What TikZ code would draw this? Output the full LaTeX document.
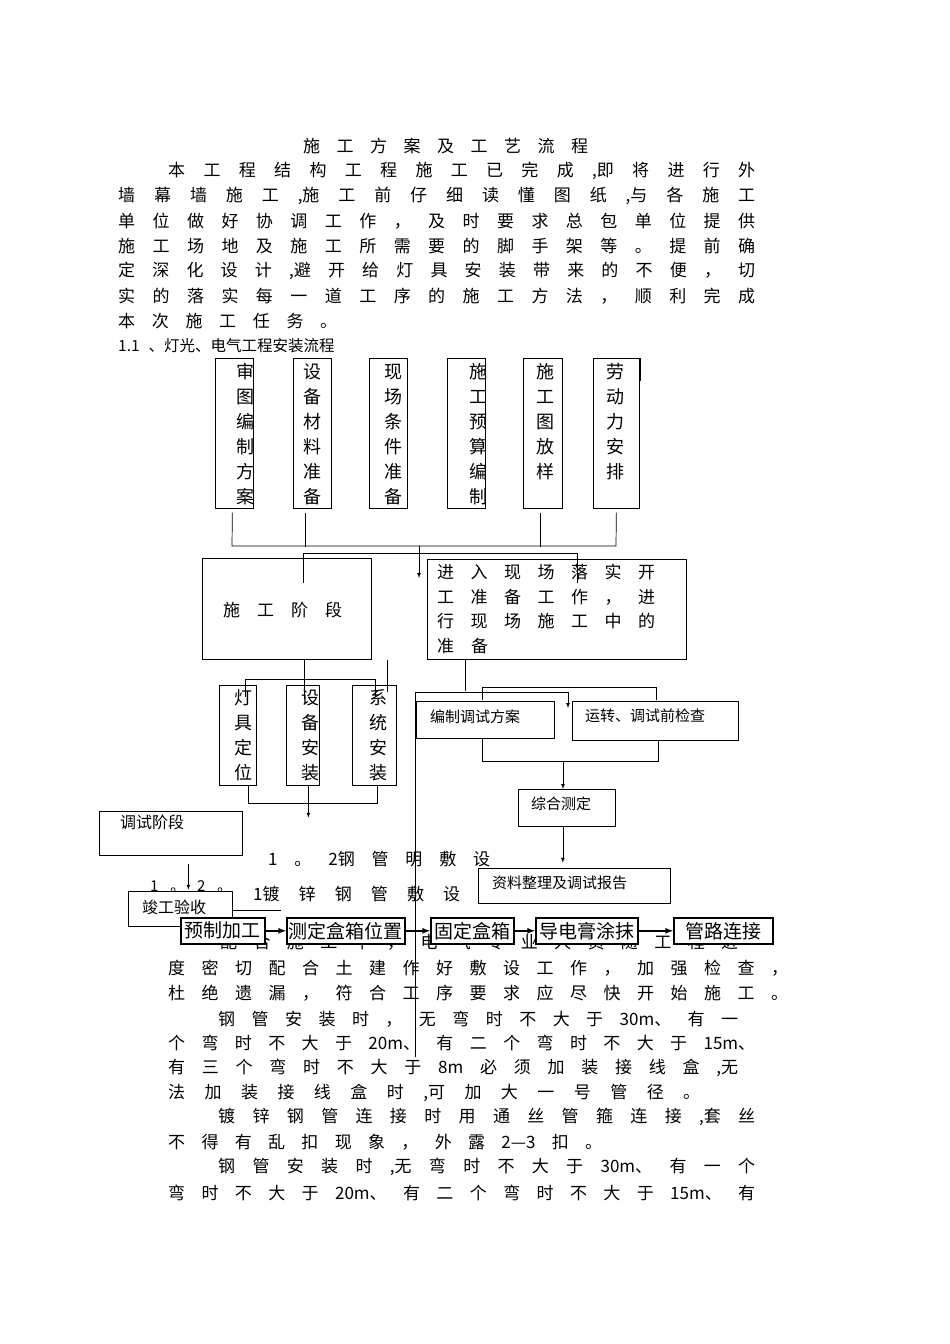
\documentclass[tikz,border=0pt]{standalone}
\usepackage{fontspec}
\setmainfont{Noto Sans CJK SC}

\tikzset{
    box/.style={draw, line width=0.7pt, fill=white, inner sep=0pt, anchor=north west},
    flowbox/.style={draw, line width=1.6pt, fill=white, inner sep=0pt, anchor=north west, font=\fontsize{19}{19}\selectfont},
    vtext/.style={align=center, inner sep=0pt, font=\fontsize{18}{25}\selectfont},
    btext/.style={anchor=west, inner sep=0pt, font=\fontsize{15}{15}\selectfont},
    body/.style={anchor=west, inner sep=0pt, font=\fontsize{17}{17}\selectfont},
    link/.style={line width=0.7pt},
    flowlink/.style={line width=1.6pt, ->},
}
% one justified line: name, x, y, width, text
\newcommand{\jline}[5]{\node[body] (#1) at (#2,#3) {\hbox to #4pt{\spaceskip=0pt plus 1fil\relax#5}};}

\begin{document}
\begin{tikzpicture}[x=1pt, y=-1pt, >=latex]
    \useasboundingbox[fill=white] (0,0) rectangle (950,1344);

    % Heading and first paragraph
    \jline{title}{303}{146}{285}{施 工 方 案 及 工 艺 流 程}
    \jline{p1}{168}{171}{587}{本 工 程 结 构 工 程 施 工 已 完 成 ,即 将 进 行 外}
    \jline{p2}{118}{196}{637}{墙 幕 墙 施 工 ,施 工 前 仔 细 读 懂 图 纸 ,与 各 施 工}
    \jline{p3}{118}{221}{637}{单 位 做 好 协 调 工 作 ， 及 时 要 求 总 包 单 位 提 供}
    \jline{p4}{118}{246}{637}{施 工 场 地 及 施 工 所 需 要 的 脚 手 架 等 。 提 前 确}
    \jline{p5}{118}{271}{637}{定 深 化 设 计 ,避 开 给 灯 具 安 装 带 来 的 不 便 ， 切}
    \jline{p6}{118}{296}{637}{实 的 落 实 每 一 道 工 序 的 施 工 方 法 ， 顺 利 完 成}
    \jline{p7}{118}{321}{219}{本 次 施 工 任 务 。}
    \node[btext, font=\fontsize{15.5}{15.5}\selectfont] (sec) at (118,346) {1.1\hspace{9pt}、灯光、电气工程安装流程};

    % Lower paragraphs (drawn first, boxes lie over them)
    \jline{s1}{268}{859}{222}{1 。 2钢 管 明 敷 设}
    \jline{s2}{253}{894}{243}{1镀 锌 钢 管 敷 设 工}
    \jline{q1}{220}{942}{518}{配 合 施 工 中 ， 电 气 专 业 人 员 随 工 程 进}
    \jline{q2}{168}{968}{620}{度 密 切 配 合 土 建 作 好 敷 设 工 作 ， 加 强 检 查 ，}
    \jline{q3}{168}{993}{620}{杜 绝 遗 漏 ， 符 合 工 序 要 求 应 尽 快 开 始 施 工 。}
    \jline{q4}{218}{1019}{520}{钢 管 安 装 时 ， 无 弯 时 不 大 于 30m、 有 一}
    \jline{q5}{168}{1043}{587}{个 弯 时 不 大 于 20m、 有 二 个 弯 时 不 大 于 15m、}
    \jline{q6}{168}{1068}{570}{有 三 个 弯 时 不 大 于 8m 必 须 加 装 接 线 盒 ,无}
    \jline{q7}{168}{1093}{532}{法 加 装 接 线 盒 时 ,可 加 大 一 号 管 径 。}
    \jline{q8}{218}{1117}{537}{镀 锌 钢 管 连 接 时 用 通 丝 管 箍 连 接 ,套 丝}
    \jline{q9}{168}{1142}{434}{不 得 有 乱 扣 现 象 ， 外 露 2—3 扣 。}
    \jline{q10}{218}{1167}{537}{钢 管 安 装 时 ,无 弯 时 不 大 于 30m、 有 一 个}
    \jline{q11}{168}{1193}{587}{弯 时 不 大 于 20m、 有 二 个 弯 时 不 大 于 15m、 有}

    % Preparation boxes
    \node[box, minimum width=38, minimum height=150] (audit) at (215,358) {};
    \node[vtext] (auditT) at (245,434.5) {审\\图\\编\\制\\方\\案};
    \node[box, minimum width=38, minimum height=150] (equip) at (293,358) {};
    \node[vtext] (equipT) at (312,434.5) {设\\备\\材\\料\\准\\备};
    \node[box, minimum width=38, minimum height=150] (site) at (369,358) {};
    \node[vtext] (siteT) at (393,434.5) {现\\场\\条\\件\\准\\备};
    \node[box, minimum width=38, minimum height=150] (budget) at (447,358) {};
    \node[vtext] (budgetT) at (478,434.5) {施\\工\\预\\算\\编\\制};
    \node[box, minimum width=39, minimum height=150] (layout) at (523,358) {};
    \node[vtext] (layoutT) at (545,422) {施\\工\\图\\放\\样};
    \node[box, minimum width=46, minimum height=150] (labour) at (593,358) {};
    \node[vtext] (labourT) at (615,422) {劳\\动\\力\\安\\排};
    \draw[line width=2pt] (labour.north east) -- ++(0,23);

    % Collecting bus
    \coordinate (busA) at (232,546);
    \coordinate (busB) at (616,546);
    \coordinate (busMid) at (419,546);
    \coordinate (busEnd) at (419,578);
    \draw[link] ([xshift=-2pt,yshift=-4pt]audit.south) -- (busA) -- (busB) -- ([yshift=-4pt]labour.south);
    \draw[link] ([xshift=-7pt,yshift=-4pt]equip.south) -- ++(0,34);
    \draw[link] ([xshift=-2.5pt,yshift=-4pt]layout.south) -- ++(0,34);
    \draw[link,->] (busMid) -- (busEnd);

    % Stage boxes
    \node[box, minimum width=169, minimum height=101] (build) at (202,558) {};
    \jline{buildT}{223}{610}{119}{施 工 阶 段}
    \node[box, minimum width=259, minimum height=100] (enter) at (427,559) {};
    \jline{enterA}{437}{572}{218}{进 入 现 场 落 实 开}
    \jline{enterB}{437}{597}{218}{工 准 备 工 作 ， 进}
    \jline{enterC}{437}{621}{218}{行 现 场 施 工 中 的}
    \jline{enterD}{437}{646}{51}{准 备}
    \draw[link] ([xshift=101pt,yshift=-25pt]build.north west) -- ++(0,-30) -| ([xshift=150pt,yshift=-24pt]enter.north west);

    % Installation boxes
    \node[box, minimum width=37, minimum height=100] (lamp) at (219,685) {};
    \node[vtext] (lampT) at (243,735) {灯\\具\\定\\位};
    \node[box, minimum width=33, minimum height=100] (device) at (286,685) {};
    \node[vtext] (deviceT) at (310,735) {设\\备\\安\\装};
    \node[box, minimum width=44, minimum height=100] (system) at (352,685) {};
    \node[vtext] (systemT) at (378,735) {系\\统\\安\\装};
    \draw[link] ([xshift=17.5pt]build.south) -- ++(0,39);
    \draw[link] ([xshift=16pt]build.south east) -- ++(0,32);
    \draw[link] ([xshift=26pt,yshift=-12pt]lamp.north west) -- ++(0,-18) -| ([xshift=23pt,yshift=-12pt]system.north west);
    \draw[link] ([xshift=29pt]lamp.south west) -- ++(0,18) -| ([xshift=25pt]system.south west);
    \draw[link,->] ([xshift=5.5pt]device.south) -- ++(0,32);

    % Commissioning branch
    \node[box, minimum width=138, minimum height=37] (plan) at (416,701) {};
    \node[btext] (planT) at (430,717) {编制调试方案};
    \node[box, minimum width=166, minimum height=39] (check) at (572,701) {};
    \node[btext] (checkT) at (585,716) {运转、调试前检查};
    \coordinate (split) at (415,692);
    \coordinate (longEnd) at (415,1057);
    \draw[link] ([xshift=38pt]enter.south west) -- ++(0,31);
    \draw[link,->] (longEnd) -- (split) -| ([xshift=-4pt,yshift=-7pt]check.north west);
    \draw[link] ([xshift=66pt,yshift=1pt]plan.north west) -- ++(0,-13) -| ([xshift=84pt,yshift=1pt]check.north west);
    \draw[link] ([xshift=66pt]plan.south west) -- ++(0,23) -| ([xshift=86pt]check.south west);
    \node[box, minimum width=97, minimum height=37] (test) at (518,789) {};
    \node[btext] (testT) at (531,804) {综合测定};
    \coordinate (merge) at (563,761);
    \draw[link,->] (merge) -- (merge |- test.north);
    \node[box, minimum width=192, minimum height=35] (report) at (478,868) {};
    \node[btext] (reportT) at (492,883) {资料整理及调试报告};
    \draw[link,->] ([xshift=-4pt]test.south) -- ++(0,36);

    % Debugging and acceptance
    \node[box, minimum width=143, minimum height=44] (debug) at (99,811) {};
    \node[btext, font=\fontsize{16}{16}\selectfont] (debugT) at (120,822) {调试阶段};
    \node[box, minimum width=104, minimum height=35] (accept) at (128,891) {};
    \node[btext, font=\fontsize{16}{16}\selectfont] (acceptT) at (142,907) {竣工验收};
    \node[btext] (num) at (150,887) {\hbox to 82pt{\spaceskip=0pt plus 1fil\relax 1 。 2 。}};
    \draw[link,->] ([xshift=17.5pt,yshift=-8pt]debug.south) -- ++(0,26);
    \draw[link] ([yshift=-1pt]accept.east) -- ++(48,0);

    % Pipe laying steps
    \node[flowbox, minimum width=84, minimum height=26] (pre) at (180,917) {预制加工};
    \node[flowbox, minimum width=118, minimum height=26] (measure) at (286,917) {测定盒箱位置};
    \node[flowbox, minimum width=83, minimum height=26] (fix) at (430,917) {固定盒箱};
    \node[flowbox, minimum width=102, minimum height=26] (paste) at (535,917) {导电膏涂抹};
    \node[flowbox, minimum width=99, minimum height=26] (connect) at (673,917) {管路连接};
    \foreach \a/\b in {pre/measure, measure/fix, fix/paste, paste/connect}
        \draw[flowlink] (\a) -- (\b);
\end{tikzpicture}
\end{document}
